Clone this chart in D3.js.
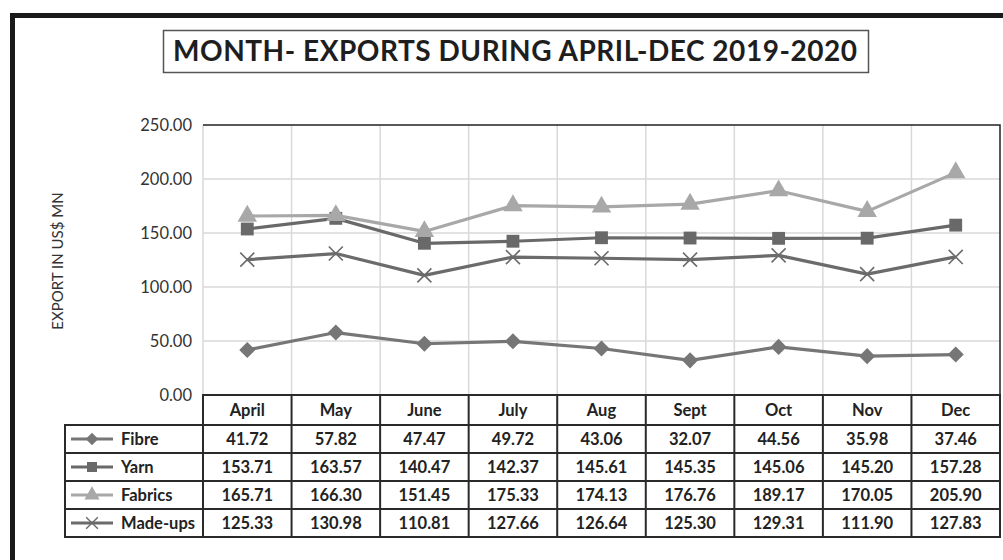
<!DOCTYPE html>
<html>
<head>
<meta charset="utf-8">
<script src="https://cdn.jsdelivr.net/npm/d3@7"></script>
<style>
  body { margin: 0; background: #fff; }
  svg { display: block; font-family: Lato, "Open Sans", sans-serif; }
</style>
</head>
<body>
<div id="chart"></div>
<script>
// month-wise exports, line chart with a data table under it

const months = ["April", "May", "June", "July", "Aug", "Sept", "Oct", "Nov", "Dec"];
const fibre   = [41.72, 57.82, 47.47, 49.72, 43.06, 32.07, 44.56, 35.98, 37.46];
const yarn    = [153.71, 163.57, 140.47, 142.37, 145.61, 145.35, 145.06, 145.20, 157.28];
const fabrics = [165.71, 166.30, 151.45, 175.33, 174.13, 176.76, 189.17, 170.05, 205.90];
const madeups = [125.33, 130.98, 110.81, 127.66, 126.64, 125.30, 129.31, 111.90, 127.83];
const yTicks  = [0, 50, 100, 150, 200, 250];

const seriesList = [
  { name: "Fibre",    values: fibre,   color: "#767676", symbol: d3.symbolDiamond2 },
  { name: "Yarn",     values: yarn,    color: "#696969", symbol: d3.symbolSquare },
  { name: "Fabrics",  values: fabrics, color: "#a8a8a8", symbol: d3.symbolTriangle },
  { name: "Made-ups", values: madeups, color: "#6b6b6b", symbol: d3.symbolX }
];

const W = 1003, H = 560;
const svg = d3.select("#chart").append("svg")
    .attr("width", W)
    .attr("height", H);

// outer frame (top and left only are visible)
svg.append("path")
    .attr("d", `M12.5,${H} V15.5 H${W}`)
    .attr("fill", "none")
    .attr("stroke", "#1a1a1a")
    .attr("stroke-width", 5);

// title box
svg.append("rect")
    .attr("x", 163.5).attr("y", 30.5)
    .attr("width", 705).attr("height", 42)
    .attr("fill", "#fff")
    .attr("stroke", "#555")
    .attr("stroke-width", 1.5);

svg.append("text")
    .attr("x", 515).attr("y", 61)
    .attr("text-anchor", "middle")
    .attr("textLength", 684)
    .attr("lengthAdjust", "spacing")
    .style("font-size", "28px")
    .style("font-weight", "bold")
    .style("fill", "#1e1e1e")
    .text("MONTH- EXPORTS DURING APRIL-DEC 2019-2020");

// scales
const x = d3.scaleBand()
    .domain(months)
    .range([203, 1000])
    .padding(0);

const y = d3.scaleLinear()
    .domain([0, 250])
    .range([395, 125]);

const cx = m => x(m) + x.bandwidth() / 2;

// gridlines
const grid = svg.append("g");
grid.selectAll(".hg")
  .data(yTicks.filter(t => t > 0 && t < 250))
  .join("line")
    .attr("x1", 203).attr("x2", 1000)
    .attr("y1", d => y(d)).attr("y2", d => y(d))
    .attr("stroke", "#d9d9d9")
    .attr("stroke-width", 1.5);

grid.selectAll(".vg")
  .data(months)
  .join("line")
    .attr("x1", d => x(d)).attr("x2", d => x(d))
    .attr("y1", y(250)).attr("y2", y(0))
    .attr("stroke", "#d9d9d9")
    .attr("stroke-width", 1.5);

// plot border: top and right
svg.append("path")
    .attr("d", `M203,${y(250)} H1000 V${y(0)}`)
    .attr("fill", "none")
    .attr("stroke", "#222")
    .attr("stroke-width", 1.5);

// y axis labels
const yAxis = svg.append("g")
    .attr("transform", "translate(192,0)")
    .call(d3.axisLeft(y).tickValues(yTicks).tickFormat(d3.format(".2f")).tickSize(0).tickPadding(0));
yAxis.select(".domain").remove();
yAxis.selectAll("text")
    .style("font-family", "Lato, sans-serif")
    .style("font-size", "16.5px")
    .style("fill", "#333");

svg.append("text")
    .attr("transform", `translate(63,261) rotate(-90)`)
    .attr("text-anchor", "middle")
    .style("font-size", "15px")
    .style("fill", "#333")
    .text("EXPORT IN US$ MN");

// lines and markers
const line = d3.line()
    .x((d, i) => cx(months[i]))
    .y(d => y(d));

seriesList.forEach(s => {
  svg.append("path")
      .datum(s.values)
      .attr("d", line)
      .attr("fill", "none")
      .attr("stroke", s.color)
      .attr("stroke-width", 3.2)
      .attr("stroke-linejoin", "round");

  const sym = d3.symbol().type(s.symbol).size(s.symbol === d3.symbolX ? 130 : 165);
  svg.append("g").selectAll("path")
    .data(s.values)
    .join("path")
      .attr("transform", (d, i) => `translate(${cx(months[i])},${y(d)})`)
      .attr("d", sym)
      .attr("fill", s.symbol === d3.symbolX ? "none" : s.color)
      .attr("stroke", s.symbol === d3.symbolX ? s.color : "none")
      .attr("stroke-width", 1.6);
});

// data table
const rowTop = 395, headH = 30, rowH = 28;
const tableLeft = 65;
const tbl = svg.append("g");
const lineColor = "#2a2a2a";

// header row
tbl.append("rect")
    .attr("x", 203).attr("y", rowTop)
    .attr("width", 797).attr("height", headH)
    .attr("fill", "none").attr("stroke", lineColor).attr("stroke-width", 2);

tbl.selectAll(".hcol")
  .data(months)
  .join("line")
    .attr("x1", d => x(d)).attr("x2", d => x(d))
    .attr("y1", rowTop).attr("y2", rowTop + headH + rowH * seriesList.length)
    .attr("stroke", lineColor).attr("stroke-width", 2);

tbl.selectAll(".htext")
  .data(months)
  .join("text")
    .attr("x", d => cx(d))
    .attr("y", rowTop + headH / 2 + 6)
    .attr("text-anchor", "middle")
    .style("font-size", "16.5px")
    .style("font-weight", "bold")
    .style("fill", "#222")
    .text(d => d);

const fmt = d3.format(".2f");
seriesList.forEach((s, r) => {
  const top = rowTop + headH + r * rowH;
  tbl.append("rect")
      .attr("x", tableLeft).attr("y", top)
      .attr("width", 1000 - tableLeft).attr("height", rowH)
      .attr("fill", "none").attr("stroke", lineColor).attr("stroke-width", 2);

  // legend key
  tbl.append("line")
      .attr("x1", 71).attr("x2", 113)
      .attr("y1", top + rowH / 2).attr("y2", top + rowH / 2)
      .attr("stroke", s.color).attr("stroke-width", 3.2);
  tbl.append("path")
      .attr("transform", `translate(92,${top + rowH / 2})`)
      .attr("d", d3.symbol().type(s.symbol).size(s.symbol === d3.symbolX ? 90 : 100))
      .attr("fill", s.symbol === d3.symbolX ? "none" : s.color)
      .attr("stroke", s.symbol === d3.symbolX ? s.color : "none")
      .attr("stroke-width", 1.4);
  tbl.append("text")
      .attr("x", 121).attr("y", top + rowH / 2 + 6)
      .style("font-size", "16.5px")
      .style("font-weight", "bold")
      .style("fill", "#222")
      .text(s.name);

  tbl.selectAll(null)
    .data(s.values)
    .join("text")
      .attr("x", (d, i) => cx(months[i]))
      .attr("y", top + rowH / 2 + 6)
      .attr("text-anchor", "middle")
      .style("font-size", "16.5px")
      .style("font-weight", "bold")
      .style("fill", "#222")
      .text(d => fmt(d));
});

tbl.append("line")
    .attr("x1", 203).attr("x2", 203)
    .attr("y1", rowTop).attr("y2", rowTop + headH + rowH * seriesList.length)
    .attr("stroke", lineColor).attr("stroke-width", 2);
</script>
</body>
</html>
